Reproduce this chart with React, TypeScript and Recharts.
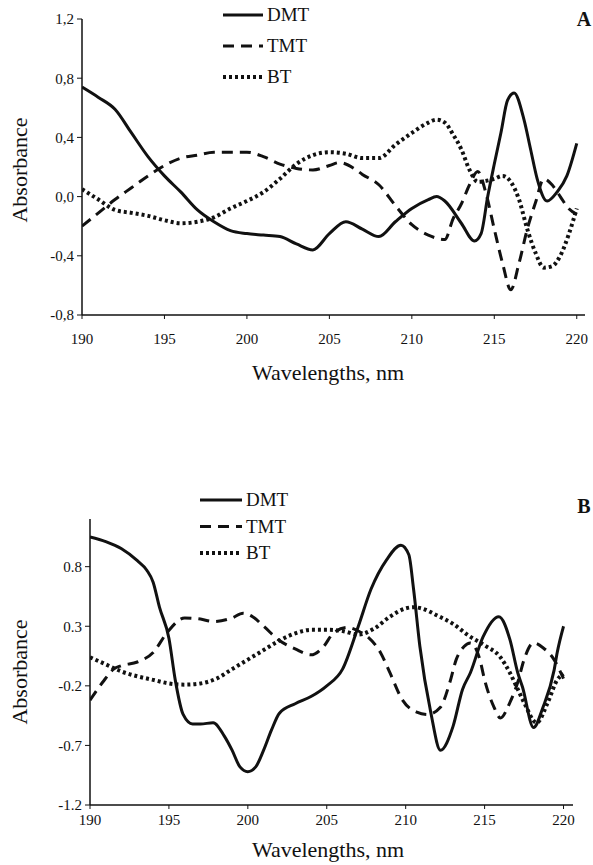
import { LineChart, Line, XAxis, YAxis } from "recharts";

const WAVE_TICKS = [190, 195, 200, 205, 210, 215, 220];
const A_TICKS = [-0.8, -0.4, 0, 0.4, 0.8, 1.2];
const B_TICKS = [-1.2, -0.7, -0.2, 0.3, 0.8];
const NAMES = ["DMT", "TMT", "BT"];

// panel A
const dmtA_w = [190, 191, 192, 193, 194, 195, 196, 197, 198, 199, 200, 201, 202, 203, 204, 205, 206, 207, 208, 209, 210, 211, 211.5, 212, 213, 213.8, 214.2, 214.6, 215, 215.4, 215.8, 216.2, 216.8, 217.2, 217.6, 218.2, 218.8, 219.4, 220];
const dmtA_v = [0.74, 0.67, 0.59, 0.43, 0.27, 0.14, 0.03, -0.09, -0.17, -0.23, -0.25, -0.26, -0.27, -0.32, -0.36, -0.25, -0.17, -0.22, -0.27, -0.17, -0.08, -0.02, 0.0, -0.03, -0.18, -0.3, -0.25, 0.0, 0.22, 0.43, 0.65, 0.7, 0.52, 0.32, 0.12, -0.03, 0.03, 0.14, 0.36];
const tmtA_w = [190, 191, 192, 193, 194, 195, 196, 197, 198, 199, 200, 201, 202, 203, 204, 205, 205.6, 206.5, 207, 208, 209, 210, 211, 212, 212.5, 213, 213.5, 214, 214.5, 215, 215.5, 216, 216.5, 217, 217.5, 218, 218.5, 219, 219.5, 220];
const tmtA_v = [-0.2, -0.11, -0.02, 0.06, 0.14, 0.21, 0.26, 0.28, 0.3, 0.3, 0.3, 0.27, 0.22, 0.19, 0.18, 0.21, 0.23, 0.19, 0.15, 0.08, -0.06, -0.19, -0.26, -0.29, -0.15, -0.05, 0.08, 0.17, 0.02, -0.22, -0.45, -0.63, -0.45, -0.22, -0.04, 0.12, 0.08, 0.0, -0.08, -0.12];
const btA_w = [190, 191, 192, 193, 194, 195, 196, 197, 198, 199, 200, 201, 202, 203, 204, 205, 206, 207, 208, 209, 210, 211, 211.5, 212, 212.5, 213, 213.5, 214, 215, 215.5, 216, 216.5, 217, 217.5, 218, 218.5, 219, 219.5, 220];
const btA_v = [0.05, -0.02, -0.09, -0.11, -0.13, -0.16, -0.18, -0.17, -0.14, -0.08, -0.03, 0.03, 0.12, 0.22, 0.28, 0.3, 0.29, 0.26, 0.26, 0.35, 0.43, 0.5, 0.52, 0.5, 0.42, 0.32, 0.18, 0.1, 0.12, 0.14, 0.1, -0.02, -0.22, -0.38, -0.48, -0.47, -0.4, -0.26, -0.08];

// panel B
const dmtB_w = [190, 191, 192, 193, 193.6, 194, 194.4, 195, 195.4, 195.9, 196.5, 197, 197.8, 198.5, 199, 199.5, 200, 200.5, 201, 201.5, 202, 203, 204, 205, 206, 207, 207.8, 208.8, 209.7, 210.2, 210.5, 210.9, 211.6, 212.2, 213, 213.6, 214.1, 214.9, 215.9, 216.6, 217.1, 217.4, 218.1, 218.7, 219.4, 219.6, 220];
const dmtB_v = [1.05, 1.01, 0.95, 0.85, 0.77, 0.67, 0.46, 0.2, -0.15, -0.44, -0.52, -0.52, -0.51, -0.62, -0.74, -0.88, -0.92, -0.88, -0.74, -0.57, -0.43, -0.35, -0.29, -0.2, -0.06, 0.3, 0.61, 0.86, 0.98, 0.9, 0.61, 0.13, -0.43, -0.74, -0.54, -0.23, -0.09, 0.21, 0.38, 0.19, -0.09, -0.21, -0.55, -0.38, -0.07, 0.08, 0.3];
const tmtB_w = [190, 190.8, 191.5, 192, 193, 194, 194.9, 196, 197, 197.8, 199, 199.7, 200.3, 201, 202, 203, 204, 204.8, 205.4, 206.3, 207, 207.6, 208.4, 209, 209.8, 210.7, 211.4, 212.2, 212.8, 213.2, 213.7, 214.1, 214.7, 215, 215.6, 216, 216.6, 217.1, 217.5, 218.1, 218.7, 219.4, 220];
const tmtB_v = [-0.32, -0.17, -0.06, -0.03, 0.0, 0.08, 0.25, 0.37, 0.36, 0.34, 0.37, 0.41, 0.38, 0.3, 0.18, 0.11, 0.06, 0.13, 0.24, 0.29, 0.26, 0.21, 0.08, -0.09, -0.32, -0.42, -0.44, -0.38, -0.17, 0.02, 0.13, 0.16, 0.02, -0.15, -0.38, -0.47, -0.34, -0.17, 0.02, 0.16, 0.12, 0.02, -0.14];
const btB_w = [190, 191, 192, 193, 194, 195, 196, 197, 198, 199, 200, 201, 202, 203, 204, 205, 206, 207, 208, 209, 210, 210.5, 211, 212, 213, 214, 215, 216, 216.6, 217, 217.5, 218.3, 219, 219.6, 220];
const btB_v = [0.04, -0.02, -0.08, -0.12, -0.15, -0.18, -0.19, -0.18, -0.14, -0.06, 0.02, 0.1, 0.18, 0.24, 0.27, 0.27, 0.26, 0.23, 0.28, 0.38, 0.45, 0.46, 0.45, 0.39, 0.32, 0.22, 0.14, 0.04, -0.09, -0.2, -0.34, -0.51, -0.34, -0.15, -0.1];

const pts = (w: number[], v: number[]) => w.map((x, i) => ({ w: x, v: v[i] }));

const STYLE: Record<string, { width: number; dash?: string }> = {
  DMT: { width: 3 },
  TMT: { width: 3, dash: "11 7" },
  BT: { width: 4, dash: "3 3" },
};

const FONT = "Liberation Serif";
const INK = "#111";

type Panel = {
  series: { name: string; data: { w: number; v: number }[] }[];
  top: number;
  axisLeft: number;
  plotTop: number;
  plotRight: number;
  xHeight: number;
  xMax: number;
  yDomain: [number, number];
  yTicks: number[];
  fmt: (v: number) => string;
  tickGap: number;
  letter: string;
  letterY: number;
  legend: { left: number; top: number; rowGap: number; lineLen: number };
  yTitleY: number;
  xTitleY: number;
};

function SpectrumPanel(p: Panel) {
  const H = 385;
  const lg = p.legend;
  return (
    <div style={{ position: "absolute", left: 0, top: p.top }}>
      <LineChart width={593} height={H} margin={{ top: p.plotTop, right: 593 - p.plotRight, bottom: 0, left: 0 }}>
        <XAxis
          type="number"
          dataKey="w"
          domain={[190, p.xMax]}
          ticks={WAVE_TICKS}
          allowDataOverflow
          height={p.xHeight}
          tickSize={4}
          tickMargin={p.tickGap}
          axisLine={{ stroke: INK, strokeWidth: 1.5 }}
          tickLine={{ stroke: INK }}
          tick={{ fontSize: 15, fontFamily: FONT, fill: INK }}
        />
        <YAxis
          type="number"
          domain={p.yDomain}
          ticks={p.yTicks}
          allowDataOverflow
          width={p.axisLeft}
          tickSize={5}
          tickMargin={3}
          tickFormatter={p.fmt}
          axisLine={{ stroke: INK, strokeWidth: 1.5 }}
          tickLine={{ stroke: INK }}
          tick={{ fontSize: 15, fontFamily: FONT, fill: INK }}
        />
        {p.series.map((s) => (
          <Line
            key={s.name}
            data={s.data}
            dataKey="v"
            name={s.name}
            type="monotone"
            stroke={INK}
            strokeWidth={STYLE[s.name].width}
            strokeDasharray={STYLE[s.name].dash}
            dot={false}
            activeDot={false}
            isAnimationActive={false}
          />
        ))}
        {/* legend */}
        {NAMES.map((n, i) => {
          const y = lg.top + i * lg.rowGap;
          return (
            <g key={n}>
              <line x1={lg.left} x2={lg.left + lg.lineLen} y1={y} y2={y} stroke={INK} strokeWidth={STYLE[n].width} strokeDasharray={STYLE[n].dash} />
              <text x={lg.left + lg.lineLen + 4} y={y + 6} fontSize={19} fontFamily={FONT} fill={INK}>{n}</text>
            </g>
          );
        })}
        <text x={328} y={p.xTitleY} textAnchor="middle" fontSize={22} fontFamily={FONT} fill={INK}>
          Wavelengths, nm
        </text>
        <text transform="rotate(-90)" x={-p.yTitleY} y={27} textAnchor="middle" fontSize={22} fontFamily={FONT} fill={INK}>
          Absorbance
        </text>
        <text x={584} y={p.letterY} textAnchor="middle" fontSize={20} fontWeight="bold" fontFamily={FONT} fill={INK}>
          {p.letter}
        </text>
      </LineChart>
    </div>
  );
}

export default function App() {
  return (
    <div style={{ position: "absolute", left: 0, top: 0, width: 593, height: 865, background: "#fff", fontFamily: FONT }}>
      <SpectrumPanel
        series={[
          { name: "DMT", data: pts(dmtA_w, dmtA_v) },
          { name: "TMT", data: pts(tmtA_w, tmtA_v) },
          { name: "BT", data: pts(btA_w, btA_v) },
        ]}
        top={0}
        axisLeft={82}
        plotTop={19}
        plotRight={585}
        xHeight={70}
        xMax={220.5}
        yDomain={[-0.8, 1.2]}
        yTicks={A_TICKS}
        fmt={(v) => v.toFixed(1).replace(".", ",")}
        tickGap={14}
        letter="A"
        letterY={26}
        legend={{ left: 223, top: 15, rowGap: 31, lineLen: 40 }}
        yTitleY={170}
        xTitleY={380}
      />
      <SpectrumPanel
        series={[
          { name: "DMT", data: pts(dmtB_w, dmtB_v) },
          { name: "TMT", data: pts(tmtB_w, tmtB_v) },
          { name: "BT", data: pts(btB_w, btB_v) },
        ]}
        top={480}
        axisLeft={90}
        plotTop={39}
        plotRight={573}
        xHeight={60}
        xMax={220.6}
        yDomain={[-1.2, 1.2]}
        yTicks={B_TICKS}
        fmt={(v) => v.toFixed(1)}
        tickGap={5}
        letter="B"
        letterY={33}
        legend={{ left: 200, top: 20, rowGap: 26.5, lineLen: 42 }}
        yTitleY={192}
        xTitleY={377}
      />
    </div>
  );
}
